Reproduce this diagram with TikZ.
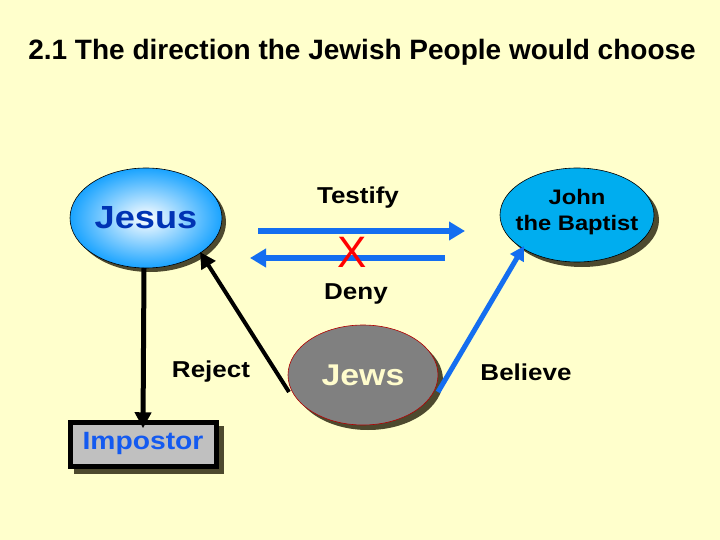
\documentclass[tikz,border=0pt]{standalone}
\usepackage{fontspec}
\setmainfont{Liberation Sans}
\newcommand{\wide}[1]{\scalebox{1.13}[1]{#1}}
\begin{document}
\begin{tikzpicture}[x=1pt,y=-1pt,font=\bfseries,
  shadow/.style={fill=black!60!olive,draw=none},
  blarr/.style={line width=6pt,draw={rgb,255:red,20;green,110;blue,240},-{Triangle[length=16pt,width=18pt]}},
  bkarr/.style={line width=5pt,-{Triangle[length=16pt,width=16pt]}},
  lbl/.style={font=\bfseries\fontsize{23}{26}\selectfont}]
\usetikzlibrary{shapes.geometric,arrows.meta}
\fill[fill={rgb,255:red,255;green,255;blue,204}] (0,0) rectangle (720,540);
\node (title) at (362,52) {\fontsize{28}{32}\selectfont 2.1 The direction the Jewish People would choose};
% shadows
\fill[shadow] (150,222) ellipse (76 and 50);
\fill[shadow] (582,220) ellipse (77 and 47);
\fill[shadow] (368,380) ellipse (75 and 50);
\fill[shadow] (74,426) rectangle (224,474);
% ellipses
\shade[inner color=white,outer color=cyan!60!blue!90] (146,218) ellipse (76 and 50);
\draw[line width=0.6pt] (146,218) ellipse (76 and 50);
\node[inner sep=0] (jesus) at (146,218) {\fontsize{32}{34}\selectfont\color[RGB]{0,51,180}\wide{Jesus}};
\coordinate (jesusb) at (144,268);
\coordinate (jesusr) at (200,252);
\fill[cyan] (577,215) ellipse (77 and 47);
\draw[line width=0.6pt] (577,215) ellipse (77 and 47);
\node[align=center,font=\bfseries\fontsize{21}{26}\selectfont] (john) at (577,212) {\wide{John}\\\wide{the Baptist}};
\coordinate (johnl) at (524,246);
\fill[gray] (363,375) ellipse (75 and 50);
\draw[red!70!black,line width=0.6pt] (363,375) ellipse (75 and 50);
\node (jews) at (363,375) {\fontsize{30}{32}\selectfont\color{yellow!20}\wide{Jews}};
\coordinate (jewsl) at (289,392);
\coordinate (jewsr) at (438,392);
% impostor
\draw[line width=5pt,fill={rgb,255:red,192;green,192;blue,192}] (70,422) rectangle (216,466);
\node (imp) at (143,443) {\fontsize{25}{27}\selectfont\color[RGB]{20,90,240}\wide{Impostor}};
% arrows
\coordinate (t1) at (258,231); \coordinate (t2) at (465,231);
\coordinate (d1) at (445,258); \coordinate (d2) at (250,258);
\draw[blarr] (t1) -- (t2);
\draw[blarr] (d1) -- (d2);
\node[red,font=\fontsize{44}{44}\selectfont] (x) at (352,252) {X};
\draw[bkarr] (jesusb) -- (imp.north);
\draw[bkarr,line width=4pt] (jewsl) -- (jesusr);
\draw[blarr,line width=5pt,-{Triangle[length=14pt,width=15pt]}] (jewsr) -- (johnl);
\node[lbl] (testify) at (358,198) {\wide{Testify}};
\node[lbl] (deny) at (356,294) {\wide{Deny}};
\node[lbl] (reject) at (211,372) {\wide{Reject}};
\node[lbl] (believe) at (526,372) {\wide{Believe}};
\end{tikzpicture}
\end{document}
